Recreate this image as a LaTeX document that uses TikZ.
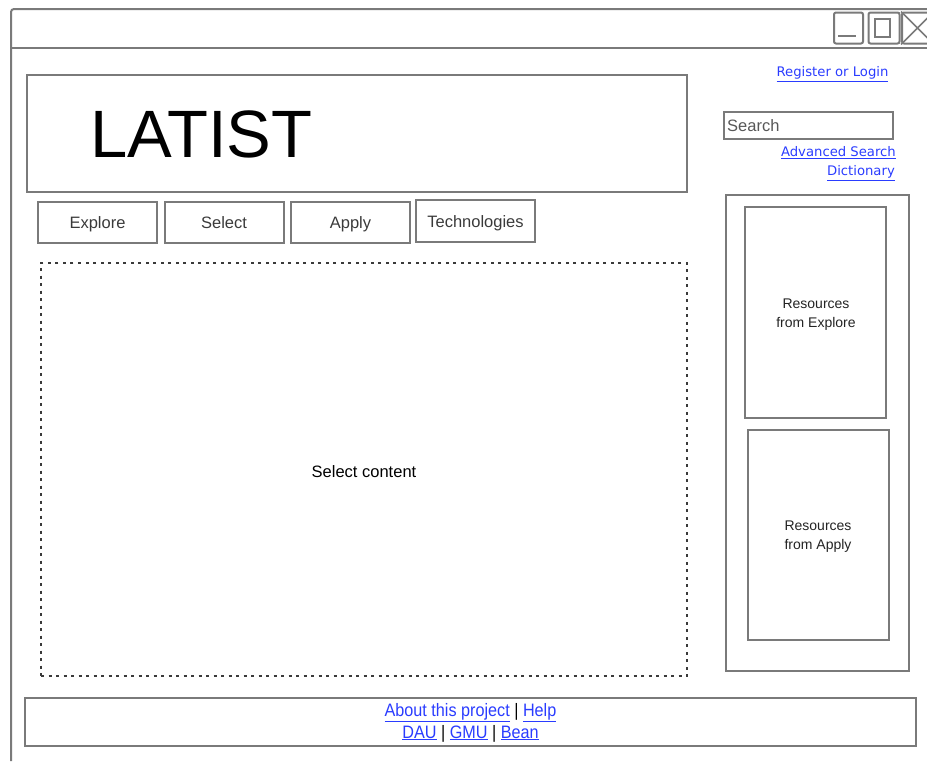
\documentclass[tikz,border=0pt]{standalone}
\usepackage{fontspec}
\setmainfont{Liberation Sans}
\newfontfamily\linkfont{DejaVu Sans}
\definecolor{frame}{HTML}{7A7A7A}
\definecolor{linkblue}{HTML}{2A3CFF}
\definecolor{labelgray}{HTML}{3A3A3A}
\newcommand{\fs}[1]{\fontsize{#1}{#1}\selectfont}
\newcommand{\lnk}[1]{\textcolor{linkblue}{\underline{#1}}}
\newcommand{\narrow}[1]{\scalebox{0.9}[1]{#1}}
\begin{document}
\begin{tikzpicture}[x=1pt,y=-1pt,
  box/.style={draw=frame,line width=2pt},
  tab/.style={box,minimum width=119pt,minimum height=41pt,inner sep=0pt,
    font=\fs{16.5},text=labelgray,text height=16pt,text depth=3.5pt},
  lbl/.style={inner sep=0pt,align=center}]
\useasboundingbox (0,0) rectangle (927,761);
% window frame with title bar
\draw[box,rounded corners=3pt] (11,761) -- (11,9) -- (935,9);
\draw[box] (11,48) -- (935,48);
% window controls
\node[box,rounded corners=2pt,minimum width=29pt,minimum height=31pt,inner sep=0pt] (minbtn) at (848.5,28) {};
\draw[box] (838,36) -- (856,36);
\node[box,rounded corners=2pt,minimum width=31pt,minimum height=31pt,inner sep=0pt] (maxbtn) at (884,28) {};
\node[box,minimum width=15pt,minimum height=18pt,inner sep=0pt] (maxin) at (882.5,27.5) {};
\node[box,rounded corners=2pt,minimum width=31pt,minimum height=31pt,inner sep=0pt] (closebtn) at (917.5,28) {};
\draw[draw=frame,line width=1.5pt] (closebtn.north west) -- (closebtn.south east)
  (closebtn.south west) -- (closebtn.north east);
% header
\node[box,minimum width=660pt,minimum height=117pt,inner sep=0pt] (header) at (357,133.5) {};
\node[inner sep=0pt,font=\fs{67},anchor=base west] (title) at (90,157) {LATIST};
% top right links and search
\node[lbl,font=\linkfont\fs{13.2}] (login) at (832.5,74) {\lnk{Register or Login}};
\node[box,minimum width=169pt,minimum height=27pt,inner sep=0pt] (search) at (808.5,125.5) {};
\node[lbl,font=\fs{16.5},text=labelgray!85!white,anchor=west] (searchtxt) at (727,125.5) {Search};
\node[lbl,font=\linkfont\fs{13.2},anchor=east] (adv) at (896,153) {\lnk{Advanced Search}};
\node[lbl,font=\linkfont\fs{13.2},anchor=east] (dict) at (895,173) {\lnk{Dictionary}};
% navigation tabs
\node[tab] (explore) at (97.5,222.5) {Explore};
\node[tab] (select) at (224,222.5) {Select};
\node[tab] (apply) at (350.5,222.5) {Apply};
\node[tab,minimum height=42pt,text height=17pt] (tech) at (475.5,221) {Technologies};
% main content area
\node[draw=labelgray,line width=1.6pt,dash pattern=on 3pt off 4.5pt,
  minimum width=646pt,minimum height=413pt,inner sep=0pt] (content) at (364,469.5) {};
\node[lbl,font=\fs{16.5}] (contenttxt) at (364,472) {Select content};
% side panel
\node[box,minimum width=183pt,minimum height=476pt,inner sep=0pt] (side) at (817.5,433) {};
\node[box,minimum width=141pt,minimum height=211pt,inner sep=0pt] (resexp) at (815.5,312.5) {};
\node[lbl,font=\fs{14},text=labelgray!60!black] (resexptxt) at (816,315) {Resources\\[5pt]from Explore};
\node[box,minimum width=141pt,minimum height=210pt,inner sep=0pt] (resapp) at (818.5,535) {};
\node[lbl,font=\fs{14},text=labelgray!60!black] (resapptxt) at (818,537) {Resources\\[5pt]from Apply};
% footer
\node[box,minimum width=891pt,minimum height=48pt,inner sep=0pt] (footer) at (470.5,722) {};
\node[lbl,font=\fs{18}] (foot1) at (470.5,712.5) {\narrow{\lnk{About this project} | \lnk{Help}}};
\node[lbl,font=\fs{18}] (foot2) at (470.5,733.5) {\narrow{\lnk{DAU} | \lnk{GMU} | \lnk{Bean}}};
\end{tikzpicture}
\end{document}
